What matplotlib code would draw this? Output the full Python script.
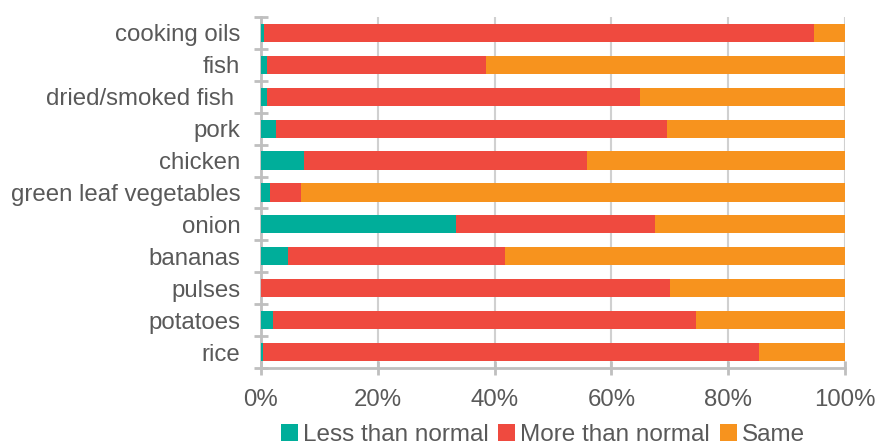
import matplotlib
matplotlib.use("Agg")
import matplotlib.pyplot as plt
import numpy as np
from matplotlib.patches import Patch

plt.rcParams['font.family'] = ['Liberation Sans', 'DejaVu Sans']

categories = ["cooking oils", "fish", "dried/smoked fish ", "pork", "chicken",
              "green leaf vegetables", "onion", "bananas", "pulses", "potatoes", "rice"]
less_than_normal = [0.5, 1.1, 1.1, 2.6, 7.3, 1.6, 33.4, 4.6, 0.0, 2.1, 0.4]
more_than_normal = [94.2, 37.4, 63.8, 66.9, 48.5, 5.2, 34.1, 37.2, 70.0, 72.4, 84.8]
same = [round(100 - a - b, 1) for a, b in zip(less_than_normal, more_than_normal)]
series_names = ["Less than normal", "More than normal", "Same"]
colors = ["#00AE9A", "#EF4A3F", "#F7931E"]
xticks = [0, 20, 40, 60, 80, 100]
xticklabels = ["0%", "20%", "40%", "60%", "80%", "100%"]

fig = plt.figure(figsize=(8.77, 4.45), dpi=100)
ax = fig.add_axes([0.2976, 0.173, 0.6659, 0.789])

y = np.arange(len(categories))
left = np.zeros(len(categories))
for vals, col in zip([less_than_normal, more_than_normal, same], colors):
    ax.barh(y, vals, left=left, height=0.57, color=col, zorder=3)
    left += np.array(vals)

ax.set_xlim(0, 100)
ax.set_ylim(len(categories) - 0.5, -0.5)
ax.set_xticks(xticks)
ax.set_xticklabels(xticklabels)
ax.set_yticks(y)
ax.set_yticklabels(categories)
ax.set_yticks(np.arange(-0.5, len(categories)), minor=True)

grey = "#D0D0D0"
ax.grid(axis='x', color=grey, linewidth=1.5, zorder=0)
for s in ['top', 'right']:
    ax.spines[s].set_visible(False)
for s in ['left', 'bottom']:
    ax.spines[s].set_color("#BFBFBF")
    ax.spines[s].set_linewidth(2)

ax.tick_params(axis='y', which='major', length=0, pad=15, labelsize=17.3, labelcolor="#595959")
ax.tick_params(axis='y', which='minor', length=10, direction='inout', width=2, color="#BFBFBF")
ax.tick_params(axis='x', which='major', length=10, direction='inout', width=2, color="#BFBFBF",
               labelsize=17.3, labelcolor="#595959", pad=10)

handles = [Patch(facecolor=c, edgecolor='none') for c in colors]
fig.legend(handles, series_names, loc='center', bbox_to_anchor=(0.619, 0.022),
           ncol=3, frameon=False, fontsize=17.5, labelcolor="#595959",
           handlelength=0.7, handleheight=0.7, handletextpad=0.2, columnspacing=0.4)

fig.savefig("out.png", dpi=100)
